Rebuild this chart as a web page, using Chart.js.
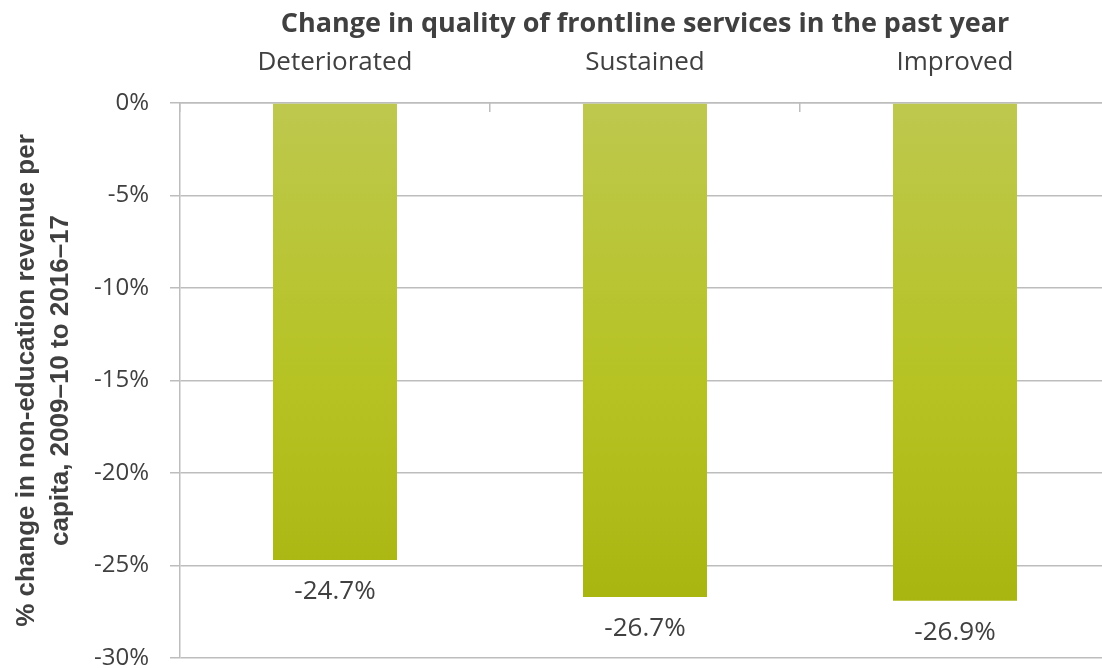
<!DOCTYPE html>
<html>
<head>
<meta charset="utf-8">
<title>Change in quality of frontline services</title>
<script src="https://cdn.jsdelivr.net/npm/chart.js@4"></script>
<style>
  html, body { margin: 0; padding: 0; background: #fff; overflow: hidden; }
  #myChart { display: block; }
</style>
</head>
<body>
<canvas id="myChart" width="1112" height="668"></canvas>
<script>
// values
var categories = ['Deteriorated', 'Sustained', 'Improved'];
var revenueChange = [-24.7, -26.7, -26.9];
var yMin = -30, yMax = 0, yStep = 5;

var textColor = '#404040';
var lineColor = '#bdbdbd';

// value labels under each bar
var barLabels = {
  id: 'barLabels',
  afterDatasetsDraw: function(chart) {
    var ctx = chart.ctx;
    var meta = chart.getDatasetMeta(0);
    ctx.save();
    ctx.font = '26px "Open Sans"';
    ctx.fillStyle = textColor;
    ctx.textAlign = 'center';
    ctx.textBaseline = 'middle';
    meta.data.forEach(function(bar, i) {
      ctx.fillText(revenueChange[i].toFixed(1) + '%', bar.x, bar.y + 32);
    });
    ctx.restore();
  }
};

var ctx = document.getElementById('myChart').getContext('2d');
var chart = new Chart(ctx, {
  type: 'bar',
  data: {
    labels: categories,
    datasets: [{
      label: '% change in non-education revenue per capita',
      data: revenueChange,
      backgroundColor: function(c) {
        var area = c.chart.chartArea;
        if (!area) return '#b6c323';
        var g = c.chart.ctx.createLinearGradient(0, area.top, 0, area.bottom);
        g.addColorStop(0, '#bec84e');
        g.addColorStop(0.5, '#b6c323');
        g.addColorStop(1, '#a5b20c');
        return g;
      },
      borderWidth: 0,
      barPercentage: 0.4,
      categoryPercentage: 1
    }]
  },
  options: {
    responsive: false,
    animation: false,
    layout: { padding: { left: 0, right: 2, top: 0, bottom: 10 } },
    plugins: {
      legend: { display: false },
      tooltip: { enabled: false }
    },
    scales: {
      x: {
        position: 'top',
        afterFit: function(s) { s.height = 103; },
        grid: {
          offset: true,
          drawOnChartArea: false,
          drawTicks: true,
          tickLength: -9,
          color: lineColor,
          lineWidth: 1.5
        },
        border: { color: lineColor, width: 1.5 },
        ticks: {
          color: textColor,
          font: { family: 'Open Sans', size: 26 },
          padding: 34
        },
        title: {
          display: true,
          text: 'Change in quality of frontline services in the past year',
          color: textColor,
          font: { family: 'Open Sans', size: 27, weight: 'bold' },
          padding: { top: 8, bottom: 0 }
        }
      },
      y: {
        min: yMin,
        max: yMax,
        afterFit: function(s) {
          s.width = 180;
          // keep the tick labels from shrinking the plot at top and bottom
          s.paddingTop = 0;
          s.paddingBottom = 0;
        },
        grid: {
          color: lineColor,
          lineWidth: 1.5,
          tickLength: 10
        },
        border: { color: lineColor, width: 1.5 },
        ticks: {
          stepSize: yStep,
          color: textColor,
          font: { family: 'Open Sans', size: 24 },
          padding: 21,
          callback: function(v) { return v + '%'; }
        },
        title: {
          display: true,
          text: ['% change in non-education revenue per', 'capita, 2009\u201310 to 2016\u201317'],
          color: textColor,
          font: { family: '"Liberation Sans", Arial, sans-serif', size: 26, weight: 'bold', lineHeight: 1.3 },
          padding: { top: 10, bottom: 0 }
        }
      }
    }
  },
  plugins: [barLabels]
});
</script>
</body>
</html>
